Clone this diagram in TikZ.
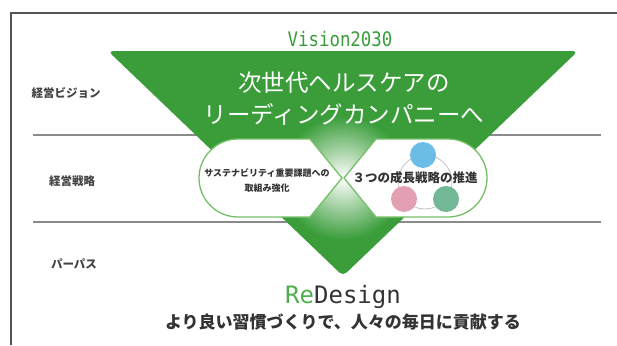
\documentclass[tikz,border=0pt]{standalone}
\usepackage{fontspec}
\usetikzlibrary{positioning}
\newfontfamily\jpsans{Noto Sans CJK JP}
\newfontfamily\vmono{DejaVu Sans Mono}
\newfontfamily\vnarrow[FakeStretch=0.87]{DejaVu Sans Mono}
\definecolor{vgreen}{HTML}{3A9D3A}
\definecolor{pillgreen}{HTML}{74C066}
\definecolor{regreen}{HTML}{4DB04D}
\definecolor{cblue}{HTML}{6CBCE8}
\definecolor{cpink}{HTML}{E3A0B2}
\definecolor{cteal}{HTML}{72B796}
\definecolor{rulegray}{HTML}{8A8A8A}
\definecolor{framegray}{HTML}{555555}
\definecolor{ringgray}{HTML}{C4C4C4}
\definecolor{labelgray}{HTML}{444444}
\definecolor{textgray}{HTML}{333333}

\begin{document}
\begin{tikzpicture}[x=1pt,y=-1pt]
	\tikzstyle{rowlabel} = [font=\jpsans\bfseries\fontsize{11.5}{12}\selectfont, text=labelgray, inner sep=0]
	\tikzstyle{headline} = [font=\jpsans\fontsize{23.5}{24}\selectfont, text=white, inner sep=0]
	\tikzstyle{pill} = [fill=white, draw=pillgreen, line width=1.3pt]
	\tikzstyle{dot} = [circle, inner sep=0, minimum size=26pt]
	\useasboundingbox (0,0) rectangle (617,345);
	
	\draw[rulegray, line width=2.6pt] (33,135) -- (601,135);
	\draw[rulegray, line width=1.6pt] (33,222) -- (601,222);
	\draw[framegray, line width=1.2pt] (617,13) -- (11,13) -- (11,345);
	
	\node[rowlabel] (L1) at (66,93) {経営ビジョン};
	\node[rowlabel] (L2) at (72,181) {経営戦略};
	\node[rowlabel] (L3) at (74,264) {パーパス};
	
	\fill[vgreen, rounded corners=5pt] (343,276) -- (108,51) -- (578,51) -- cycle;
	\begin{scope}
		\clip (343,276) -- (108,51) -- (578,51) -- cycle;
		\shade[inner color=white, outer color=vgreen] (343,178) circle (62);
	\end{scope}
	
	\node[font=\vnarrow\fontsize{20}{20}\selectfont, text=vgreen, anchor=base, inner sep=0] (V0) at (340,47) {Vision2030};
	\node[headline] (V1) at (344,83) {次世代ヘルスケアの};
	\node[headline, below=31pt of V1.center, anchor=center] (V2) {リーディングカンパニーへ};
	
	\draw[pill] (342,178) -- (310,139) -- (238,139) arc[start angle=270, end angle=90, radius=39] -- (310,217) -- cycle;
	\draw[pill] (344,178) -- (376,139) -- (448,139) arc[start angle=270, end angle=450, radius=39] -- (376,217) -- cycle;
	
	\node[font=\jpsans\bfseries\fontsize{9}{15}\selectfont, text=textgray, align=center, inner sep=0] (P1) at (267,180.5) {サステナビリティ重要課題への\\取組み強化};
	
	\draw[ringgray, line width=0.8pt] (425,182) circle (27);
	\node[dot, fill=cblue] (C1) at (423,155) {};
	\node[dot, fill=cpink] (C2) at (404,199) {};
	\node[dot, fill=cteal] (C3) at (446,199) {};
	\node[font=\jpsans\bfseries\fontsize{12.5}{13}\selectfont, text=textgray, inner sep=0] (P2) at (415,178) {３つの成長戦略の推進};
	
	\node[font=\vmono\fontsize{24}{24}\selectfont, text=textgray, anchor=base, inner sep=0] (RD) at (343,303) {\textcolor{regreen}{Re}Design};
	\node[font=\jpsans\bfseries\fontsize{17}{17}\selectfont, text=textgray, below=19pt of RD.base, anchor=center, inner sep=0] (RD2) {より良い習慣づくりで、人々の毎日に貢献する};
\end{tikzpicture}
\end{document}
